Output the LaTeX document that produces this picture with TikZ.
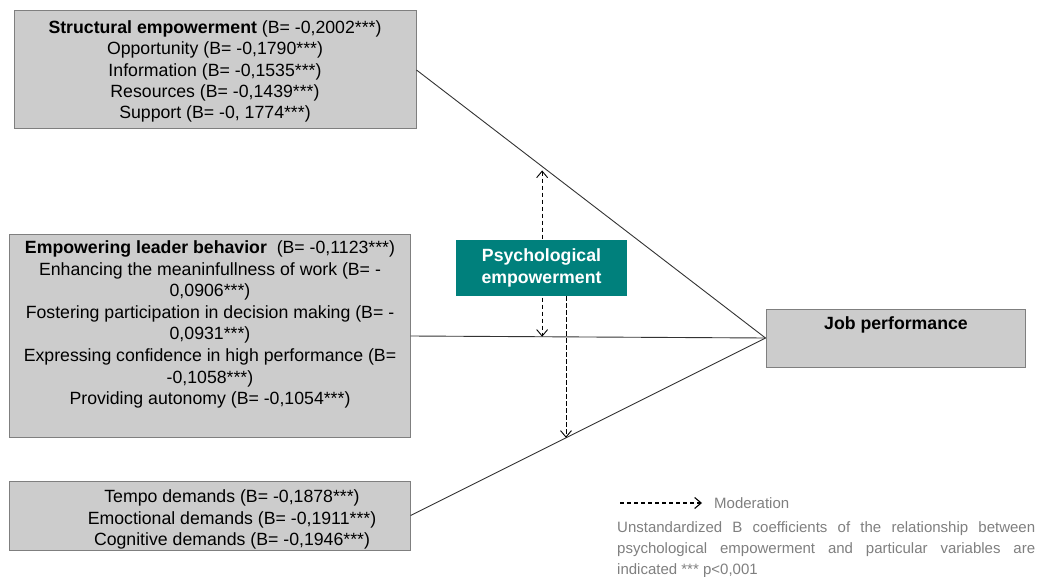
\documentclass[tikz,border=0pt]{standalone}
\usepackage{fontspec}
\setmainfont{Liberation Sans}
\usetikzlibrary{arrows.meta,calc}
\definecolor{boxfill}{HTML}{CCCCCC}
\definecolor{boxline}{HTML}{7F7F7F}
\definecolor{linegray}{HTML}{333333}
\definecolor{psyteal}{HTML}{00807C}
\definecolor{notegray}{HTML}{7F7F7F}
\begin{document}
\begin{tikzpicture}[x=1pt,y=-1pt,
  box/.style={draw=boxline, fill=boxfill, line width=1pt, inner sep=0pt},
  boxtext/.style={align=center, font=\fontsize{17.7}{21.3}\selectfont, text=black, inner sep=0pt},
  psybox/.style={fill=psyteal, draw=none, inner sep=0pt, minimum width=171, minimum height=56,
    align=center, text=white, font=\bfseries\fontsize{17.7}{22}\selectfont},
  link/.style={draw=linegray, line width=0.9pt},
  moder/.style={draw=black, line width=0.9pt, dash pattern=on 4.5pt off 2.5pt},
  barb/.style={-{Straight Barb[length=6.5pt,width=11pt]}},
  dbarb/.style={{Straight Barb[length=6.5pt,width=11pt]}-{Straight Barb[length=6.5pt,width=11pt]}},
  note/.style={text=notegray, inner sep=0pt, font=\fontsize{15}{20.8}\selectfont},
]
\useasboundingbox (0,0) rectangle (1038,577);

% Predictor boxes
\node[box, minimum width=402, minimum height=118] (se) at (215,70) {};
\node[boxtext] (setext) at (215,71.5) {\textbf{Structural empowerment} (B= -0,2002***)\\
  Opportunity (B= -0,1790***)\\
  Information (B= -0,1535***)\\
  Resources (B= -0,1439***)\\
  Support (B= -0, 1774***)};

\node[box, minimum width=401, minimum height=202] (leader) at (209.5,336) {};
\node[boxtext, font=\fontsize{17.7}{21.6}\selectfont] (leadertext) at (210,324.5) {\textbf{Empowering leader behavior}\ \ (B= -0,1123***)\\
  Enhancing the meaninfullness of work (B= -\\
  0,0906***)\\
  Fostering participation in decision making (B= -\\
  0,0931***)\\
  Expressing confidence in high performance (B=\\
  -0,1058***)\\
  Providing autonomy (B= -0,1054***)};

\node[box, minimum width=401, minimum height=69] (dem) at (209.5,515.5) {};
\node[boxtext] (demtext) at (232,519.5) {Tempo demands (B= -0,1878***)\\
  Emoctional demands (B= -0,1911***)\\
  Cognitive demands (B= -0,1946***)};

% Outcome box
\node[box, minimum width=259, minimum height=58] (jp) at (895.5,338) {};
\node[boxtext, font=\bfseries\fontsize{17.7}{21.3}\selectfont] (jptext) at (896,324.5) {Job performance};

% Paths to the outcome
\draw[link] (se.east) -- (jp.west);
\draw[link] (leader.east) -- (jp.west);
\draw[link] (dem.east) -- (jp.west);

% Points on the paths where the moderator acts
\path (se.east) -- (jp.west) coordinate[pos=0.36] (m1);
\path (leader.east) -- (jp.west) coordinate[pos=0.371] (m2);
\path (dem.east) -- (jp.west) coordinate[pos=0.438] (m3);

% Moderator: arrows first, then the box on top of them
\node[psybox] (psyback) at (541.5,268) {};
\draw[moder, dbarb] ($(m1)+(0,4)$) -- (m1 |- m2);
\draw[moder, barb] (psyback.south -| m3) -- (m3);
\node[psybox] (psy) at (541.5,268) {Psychological\\empowerment};

% Legend
\coordinate (lg1) at (620,503);
\coordinate (lg2) at (702,503);
\draw[moder, barb, dash pattern=on 4pt off 3pt, line width=1.1pt] (lg1) -- (lg2);
\node[note, anchor=west] (modtext) at (714,503) {Moderation};
\node[note, anchor=north west, align=left] (legendnote) at (617,521.5)
  {\makebox[418pt][s]{Unstandardized B coefficients of the relationship between}\\
   \makebox[418pt][s]{psychological empowerment and particular variables are}\\
   indicated *** p<0,001};
\end{tikzpicture}
\end{document}
